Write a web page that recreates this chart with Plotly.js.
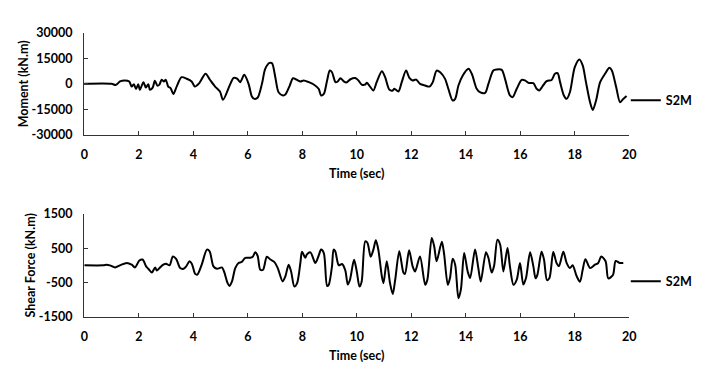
<!DOCTYPE html>
<html>
<head>
<meta charset="utf-8">
<script src="https://cdn.plot.ly/plotly-3.0.1.min.js"></script>
<style>html,body{margin:0;padding:0;background:#fff;}#chart{width:716px;height:376px;}</style>
</head>
<body>
<div id="chart"></div>
<script>
// ---- Data ----
const seriesName = "S2M";

const momentTime = [0,1.0,1.16,1.31,1.49,1.65,1.74,1.82,1.90,1.98,2.04,2.17,2.26,2.35,2.41,2.51,2.59,2.68,2.75,2.84,2.92,2.99,3.08,3.17,3.27,3.39,3.57,3.76,3.94,4.06,4.22,4.45,4.61,4.80,4.98,5.09,5.36,5.48,5.62,5.72,5.87,6.03,6.15,6.24,6.36,6.52,6.64,6.80,6.89,7.01,7.13,7.29,7.38,7.54,7.66,7.81,7.93,8.05,8.24,8.42,8.60,8.69,8.79,8.91,9.01,9.09,9.22,9.30,9.40,9.52,9.62,9.77,9.94,10.06,10.18,10.31,10.37,10.46,10.61,10.73,10.92,11.04,11.20,11.32,11.38,11.53,11.65,11.81,11.93,12.05,12.18,12.32,12.51,12.67,12.79,12.93,13.06,13.24,13.36,13.52,13.61,13.73,13.89,14.10,14.22,14.40,14.52,14.71,14.83,15.01,15.13,15.32,15.44,15.62,15.72,15.87,16.05,16.17,16.30,16.48,16.60,16.70,16.79,16.97,17.15,17.27,17.37,17.46,17.60,17.70,17.82,18.00,18.17,18.29,18.41,18.56,18.66,18.78,18.93,19.11,19.27,19.36,19.52,19.66,19.76,19.90];
const momentValues = [0,0,-600,1400,2000,1400,-1600,-200,-3000,-200,-3500,1000,-2200,-200,-3500,-2200,1800,-1000,-600,2400,1400,2400,-1600,-2600,-5900,-1600,3900,3000,1400,-1600,400,5900,2400,-1600,-4500,-9400,0,3500,2900,1000,5300,0,-7400,-8800,-8200,0,8800,12300,12100,3900,-4900,-6800,-6300,-1000,3300,2300,1400,2000,1000,-400,-2900,-6800,-5900,2000,7800,6800,1000,1400,3300,1500,800,2700,3400,2000,-400,-400,600,-1000,-3900,1000,7400,3900,-3500,-3900,-2900,-4500,1000,7800,3500,2000,2500,0,-1000,-1600,1000,7800,6800,2900,-2900,-9800,-8800,-1000,4900,8800,5900,-2900,-4900,-5300,0,7800,8400,8200,2900,-6800,-7800,-2900,2300,2000,600,400,-2900,-3900,-2000,1600,2300,5900,6300,1000,-6800,-8800,-4900,9800,14300,10800,1000,-10800,-15300,-9800,1000,5900,9400,7800,-2000,-10800,-9200,-7200];

const shearTime = [0,0.70,0.82,0.94,1.13,1.31,1.56,1.74,1.86,2.02,2.14,2.27,2.35,2.48,2.60,2.66,2.78,2.90,3.00,3.13,3.25,3.37,3.52,3.64,3.74,3.86,3.95,4.07,4.15,4.31,4.50,4.60,4.74,4.87,5.05,5.13,5.26,5.33,5.42,5.54,5.66,5.78,5.91,6.09,6.19,6.27,6.36,6.46,6.56,6.70,6.83,6.97,7.10,7.28,7.38,7.50,7.59,7.71,7.81,7.93,7.99,8.11,8.17,8.30,8.48,8.60,8.69,8.79,8.91,8.97,9.09,9.15,9.21,9.34,9.46,9.58,9.67,9.75,9.90,10.00,10.10,10.18,10.31,10.39,10.51,10.61,10.70,10.79,10.92,10.98,11.10,11.22,11.32,11.41,11.56,11.71,11.77,11.92,12.05,12.14,12.32,12.51,12.59,12.75,12.84,12.93,13.12,13.20,13.34,13.42,13.52,13.61,13.73,13.82,13.94,14.07,14.16,14.34,14.46,14.55,14.74,14.83,14.95,15.04,15.16,15.26,15.38,15.53,15.62,15.75,15.87,15.99,16.11,16.21,16.36,16.48,16.56,16.63,16.78,16.87,16.98,17.07,17.21,17.33,17.42,17.58,17.70,17.82,17.92,18.07,18.19,18.29,18.39,18.56,18.74,18.86,18.97,19.13,19.23,19.40,19.50,19.64,19.78,19.90];
const shearValues = [0,0,20,0,-60,0,70,20,-60,140,170,-30,-100,-210,-60,-150,-60,20,50,0,260,190,-80,-100,-30,120,40,-250,-270,20,460,410,-30,-100,-60,-180,-520,-600,-470,-80,70,100,220,220,260,380,280,-130,-130,250,170,100,-80,-470,-320,20,-180,-620,-520,70,400,220,320,380,70,280,460,360,-600,-570,-30,460,410,0,40,-150,-560,-420,160,-180,-620,-470,700,660,250,460,730,460,-320,-520,120,-520,-840,-420,410,-210,-250,440,-30,-180,260,-570,-420,800,560,120,690,360,-570,-370,190,20,-960,-710,360,-180,-370,460,-80,-470,380,220,-210,-10,750,610,-180,510,-30,-570,-420,70,-560,-370,380,-30,-380,-270,400,170,-430,-370,390,70,-20,400,70,-80,0,-320,-480,-130,180,-80,20,70,260,120,-380,-280,130,70,70];

const momentTicks = [-30000,-15000,0,15000,30000];
const momentTickText = ["-30000","-15000","0","15000","30000"];
const shearTicks = [-1500,-500,500,1500];
const shearTickText = ["-1500","-500","500","1500"];
const timeTicks = [0,2,4,6,8,10,12,14,16,18,20];

// ---- Styling ----
const FONT = "Lato, 'Open Sans', sans-serif";
const tickFont = {family: FONT, size: 12.5, color: "#000", weight: "bold"};
const titleFont = {family: FONT, size: 12.5, color: "#000", weight: "bold"};
const axisCol = "#333";

function xAx(anchor, title) {
  return {
    anchor: anchor, domain: [0.1177, 0.8789], range: [0, 20],
    tickvals: timeTicks, ticktext: timeTicks.map(String),
    showline: true, linecolor: axisCol, linewidth: 1.3,
    ticks: "inside", ticklen: 4, tickcolor: axisCol, tickwidth: 1.3,
    showgrid: false, zeroline: false, tickfont: tickFont,
    ticklabelstandoff: 8,
    title: {text: title, font: titleFont, standoff: 8}
  };
}
function yAx(anchor, domain, range, tv, tt, title, standoff) {
  return {
    anchor: anchor, domain: domain, range: range,
    tickvals: tv, ticktext: tt,
    showline: true, linecolor: axisCol, linewidth: 1.3,
    ticks: "inside", ticklen: 4, tickcolor: axisCol, tickwidth: 1.3,
    showgrid: false, zeroline: false, tickfont: tickFont,
    ticklabelstandoff: 8,
    title: {text: title, font: titleFont, standoff: standoff}
  };
}

const traces = [
  {x: momentTime, y: momentValues, xaxis: "x", yaxis: "y", type: "scatter", mode: "lines",
   name: seriesName, legend: "legend",
   line: {color: "#000", width: 2, shape: "spline", smoothing: 0.8}},
  {x: shearTime, y: shearValues, xaxis: "x2", yaxis: "y2", type: "scatter", mode: "lines",
   name: seriesName, legend: "legend2",
   line: {color: "#000", width: 2, shape: "spline", smoothing: 0.8}}
];

const legendBase = {xanchor: "left", yanchor: "middle", bgcolor: "rgba(0,0,0,0)",
  font: {family: FONT, size: 12.5, color: "#000", weight: "bold"}, borderwidth: 0, tracegroupgap: 0};

const layout = {
  width: 716, height: 376,
  margin: {l: 0, r: 0, t: 0, b: 0},
  paper_bgcolor: "#fff", plot_bgcolor: "#fff",
  showlegend: true,
  xaxis: xAx("y", "Time (sec)"),
  yaxis: yAx("x", [0.641, 0.913], [-30000, 30000], momentTicks, momentTickText, "Moment (kN.m)", 0),
  xaxis2: xAx("y2", "Time (sec)"),
  yaxis2: yAx("x2", [0.1577, 0.4309], [-1500, 1500], shearTicks, shearTickText, "Shear Force (kN.m)", 0),
  legend: Object.assign({x: 0.874, y: 1 - 100.7/376}, legendBase),
  legend2: Object.assign({x: 0.874, y: 1 - 281.7/376}, legendBase)
};

Plotly.newPlot("chart", traces, layout, {staticPlot: true, displayModeBar: false});
</script>
</body>
</html>
